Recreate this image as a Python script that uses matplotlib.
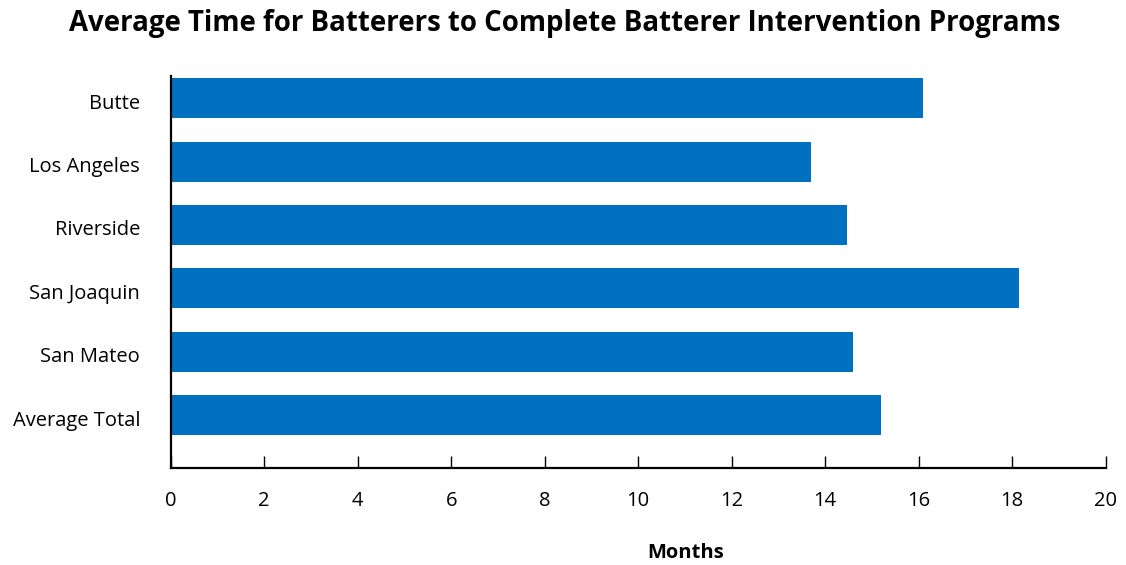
import matplotlib
matplotlib.use("Agg")
import matplotlib.pyplot as plt
from matplotlib.transforms import ScaledTranslation

categories = ["Butte", "Los Angeles", "Riverside", "San Joaquin", "San Mateo", "Average Total"]
months = [16.09, 13.70, 14.47, 18.15, 14.59, 15.19]
xticks = [0, 2, 4, 6, 8, 10, 12, 14, 16, 18, 20]

plt.rcParams["font.family"] = ["Open Sans", "DejaVu Sans"]

fig = plt.figure(figsize=(11.26, 5.65), dpi=100)
ax = fig.add_axes([170.7 / 1126, 1 - 467.7 / 565, 935 / 1126, (467.7 - 76) / 565])

ypos = list(range(len(categories)))
ax.barh(ypos, months, height=0.63, color="#0070C0", zorder=2)

ax.set_xlim(0, 20)
ax.set_ylim(5.83, -0.35)
ax.set_xticks(xticks)
ax.set_xticklabels([str(t) for t in xticks])
ax.set_yticks(ypos)
ax.set_yticklabels(categories)

for side in ("top", "right"):
    ax.spines[side].set_visible(False)
for side in ("left", "bottom"):
    ax.spines[side].set_linewidth(1.6)
    ax.spines[side].set_color("black")

ax.tick_params(axis="x", direction="in", length=8.5, width=1, pad=17, labelsize=14.5)
ax.tick_params(axis="y", length=0, pad=22, labelsize=14.5)

# nudge category labels slightly downward
shift = ScaledTranslation(0, -3 / 100, fig.dpi_scale_trans)
for lbl in ax.get_yticklabels():
    lbl.set_transform(lbl.get_transform() + shift)

fig.text(565 / 1126, 1 - 24 / 565, "Average Time for Batterers to Complete Batterer Intervention Programs",
         ha="center", va="center", fontsize=19.9, fontweight="bold")
fig.text(686 / 1126, 1 - 553 / 565, "Months", ha="center", va="center", fontsize=14.5, fontweight="bold")

fig.savefig("out.png", dpi=100)
